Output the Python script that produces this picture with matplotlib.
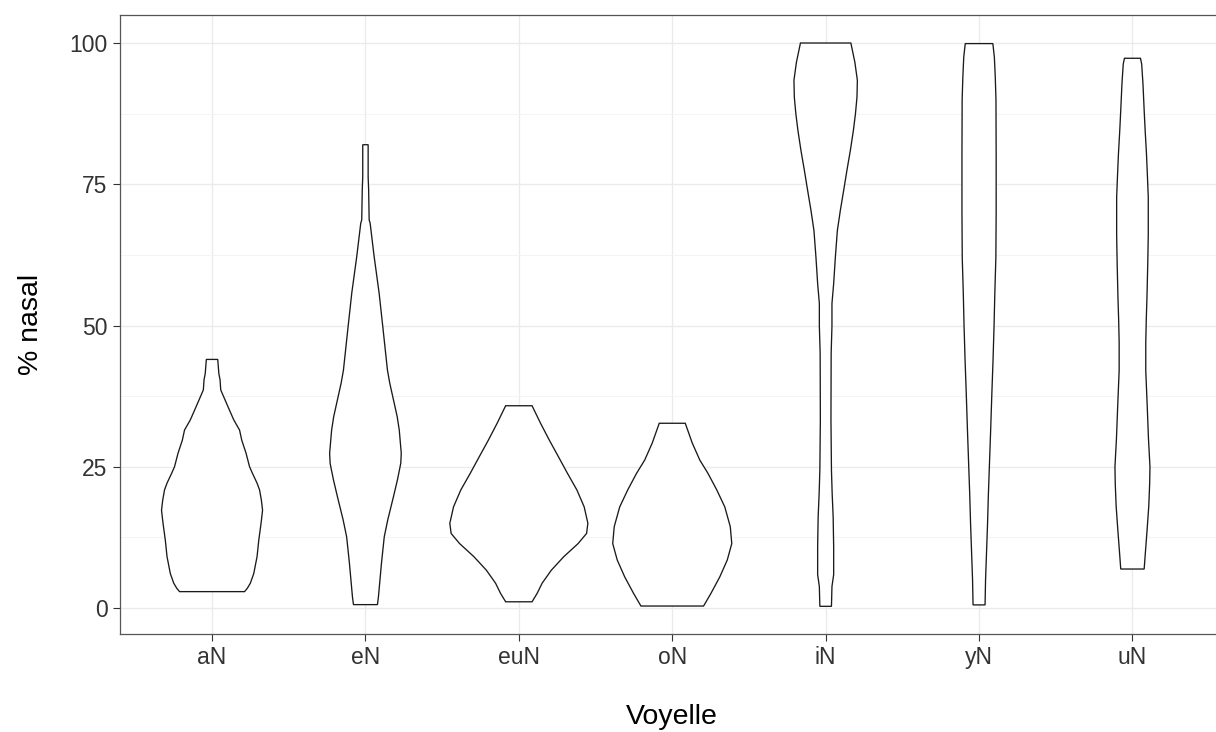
import numpy as np
import matplotlib
matplotlib.use("Agg")
import matplotlib.pyplot as plt
from matplotlib.ticker import MultipleLocator

plt.rcParams['font.family'] = ['Liberation Sans', 'DejaVu Sans']

# ---- data -------------------------------------------------------------
categories = ["aN", "eN", "euN", "oN", "iN", "yN", "uN"]

# violin profiles: y values (% nasal) and relative density (max = 1)
aN_y = [2.9, 3.5, 4.4, 6.1, 9.1, 12.0, 15.0, 17.3, 19.1, 20.9, 22.1, 23.8, 25.0,
        27.4, 29.7, 31.5, 33.3, 35.6, 38.6, 40.4, 41.5, 44.0]
aN_d = [32.5, 35.3, 38.3, 41.7, 45.0, 46.7, 49.0, 50.5, 49.3, 47.5, 45.0, 40.5, 37.5,
        34.0, 29.7, 27.5, 21.7, 16.0, 8.7, 8.0, 6.8, 5.7]

eN_y = [0.6, 2.0, 7.9, 12.6, 15.6, 19.7, 22.7, 25.6, 27.4, 31.5, 33.9, 39.8, 42.1,
        49.2, 55.7, 62.2, 68.1, 68.7, 74.0, 76.3, 82.0]
eN_d = [12.0, 13.0, 16.0, 18.8, 22.3, 28.0, 32.0, 35.3, 35.8, 33.8, 31.7, 24.3, 22.0,
        17.7, 13.7, 8.7, 4.7, 3.7, 3.2, 2.7, 2.7]

euN_y = [1.1, 2.6, 4.4, 6.7, 9.1, 11.4, 13.2, 15.0, 17.9, 20.9, 23.8, 26.8, 29.7, 32.7, 35.8]
euN_d = [13.2, 18.3, 23.3, 32.5, 45.0, 59.2, 67.7, 69.0, 65.3, 58.0, 48.7, 39.5, 30.5, 21.7, 13.2]

oN_y = [0.35, 2.6, 5.5, 8.5, 11.4, 14.4, 17.9, 20.9, 23.8, 26.2, 29.2, 32.7]
oN_d = [31.3, 38.7, 47.5, 55.0, 59.5, 58.0, 52.5, 44.5, 35.8, 27.5, 20.0, 13.0]

iN_y = [0.3, 3.8, 5.9, 10.9, 16.1, 20.3, 24.4, 33.3, 45.1, 49.9, 53.9, 57.4, 62.1,
        66.8, 70.4, 73.9, 77.5, 81.0, 84.5, 87.5, 90.4, 93.4, 96.6, 100.0]
iN_d = [5.8, 6.3, 8.0, 8.0, 7.5, 6.5, 5.8, 5.3, 5.5, 6.3, 6.3, 8.0, 9.7,
        11.7, 14.7, 18.0, 21.3, 24.7, 27.7, 29.8, 31.3, 31.7, 29.2, 25.2]

yN_y = [0.55, 5.0, 10.0, 15.0, 20.0, 25.0, 31.0, 38.0, 44.0, 50.0, 56.0, 62.0,
        70.0, 80.0, 90.0, 94.0, 97.5, 99.9]
yN_d = [6.0, 6.5, 7.5, 8.5, 9.3, 10.3, 11.5, 12.8, 14.0, 15.0, 15.8, 16.8,
        17.1, 17.1, 16.9, 16.2, 15.3, 13.8]

uN_y = [6.9, 10.0, 14.0, 18.0, 22.0, 25.0, 30.0, 36.0, 42.0, 47.0, 51.0, 55.0,
        61.0, 66.0, 72.7, 76.3, 80.4, 84.5, 88.1, 92.8, 96.3, 97.3]
uN_d = [11.7, 13.0, 14.7, 16.3, 17.2, 17.5, 16.0, 14.7, 13.3, 13.3, 13.8, 14.5,
        15.3, 15.8, 15.8, 15.0, 14.0, 12.7, 11.7, 10.5, 9.2, 8.0]

profiles = [(aN_y, aN_d), (eN_y, eN_d), (euN_y, euN_d), (oN_y, oN_d),
            (iN_y, iN_d), (yN_y, yN_d), (uN_y, uN_d)]
y_ticks = [0, 25, 50, 75, 100]

# ---- figure -----------------------------------------------------------
W, H = 1216, 732
fig = plt.figure(figsize=(W / 100, H / 100), dpi=100)
left_px, right_px, top_px, bot_px = 120, 1224.5, 15, 634
ax = fig.add_axes([left_px / W, (H - bot_px) / H,
                   (right_px - left_px) / W, (bot_px - top_px) / H])

dmax = max(max(d) for _, d in profiles)
half_width = 0.45
for i, (ys, ds) in enumerate(profiles):
    c = i + 1
    ys = np.asarray(ys, float)
    w = np.asarray(ds, float) / dmax * half_width
    xs = np.concatenate([c + w, (c - w)[::-1]])
    yy = np.concatenate([ys, ys[::-1]])
    ax.fill(xs, yy, facecolor="white", edgecolor="#1a1a1a", lw=0.95, zorder=3,
            joinstyle="miter")

ax.set_xlim(0.4, 7.6)
ax.set_ylim(-4.6, 104.96)
ax.set_xticks(range(1, len(categories) + 1))
ax.set_xticklabels(categories)
ax.set_yticks(y_ticks)
ax.yaxis.set_minor_locator(MultipleLocator(12.5))

ax.grid(True, which="major", color="#EBEBEB", lw=1.0, zorder=0)
ax.grid(True, which="minor", axis="y", color="#F3F3F3", lw=0.6, zorder=0)
ax.set_axisbelow(True)

for s in ax.spines.values():
    s.set_color("#555555")
    s.set_linewidth(0.9)

ax.tick_params(axis="both", which="major", length=5, width=0.8, color="#333333",
               labelsize=16.5, labelcolor="#333333")
ax.tick_params(axis="x", pad=3.5)
ax.tick_params(axis="y", pad=4)
ax.tick_params(which="minor", length=0)

ax.set_xlabel("Voyelle", fontsize=20.5, color="black", labelpad=25)
ax.set_ylabel("% nasal", fontsize=20.5, color="black", labelpad=18)

fig.savefig("out.png", dpi=100)
